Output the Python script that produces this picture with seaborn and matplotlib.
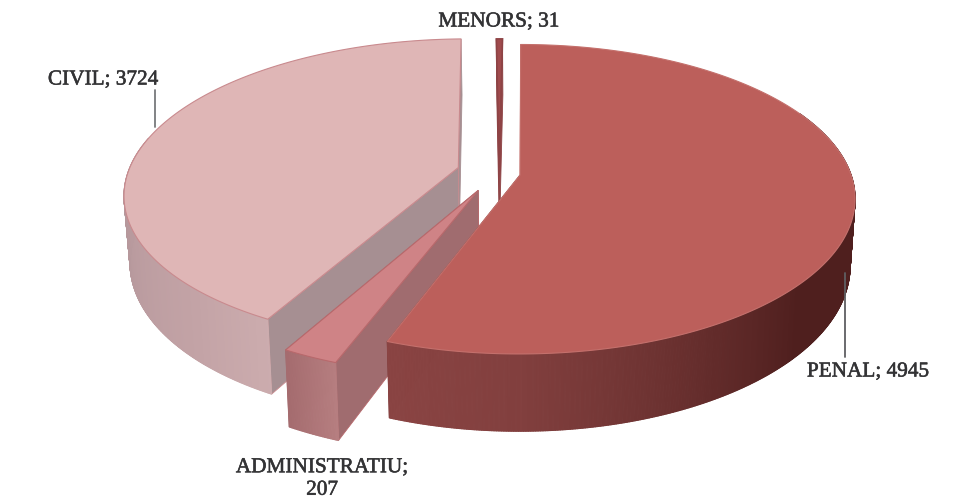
import numpy as np
import matplotlib.pyplot as plt
import matplotlib.patheffects as pe
from matplotlib.collections import PolyCollection
import seaborn as sns

# values, clockwise from 12 o'clock
categories = ['PENAL', 'ADMINISTRATIU', 'CIVIL', 'MENORS']
values = [4945, 207, 3724, 31]

top_colors = ['#BC5F5B', '#CF8386', '#DFB6B6', '#A04B4D']
edge_colors = ['#C4706C', '#B8696C', '#C98A8E', '#8E4345']
inner_colors = ['#6E3231', '#A06C6F', '#A68F92', '#8E4345']
side_ramps = [['#8A4443', '#6E3332', '#4F1F1E', '#4F1F1E'],
              ['#A56C6F', '#B67E80'],
              ['#B6989C', '#C3A3A6', '#D6B6B7'],
              ['#8E4345', '#8E4345']]
edge_widths = [0.8, 0.8, 0.8, 1.2]

# exploded apex of each slice on the ground plane
offset_u = [-0.015, -0.139, -0.203, -0.079]
offset_v = [0.02, 0.12, -0.03, -0.03]
draw_order = [2, 3, 1, 0]

cx, cy = 525, 172
scale_x, scale_y = 330, 150
persp = 0.156
depth = 65
taper = 0.015


def project(u, v, z=0.0):
    s = 1 / (1 - persp * v)
    return np.column_stack([cx + scale_x * u * s * (1 - taper * z),
                            cy + scale_y * v * s + depth * z * s])


def ground(i, theta):
    return offset_u[i] + np.sin(theta), offset_v[i] - np.cos(theta)


sns.set_theme(style='white')
plt.rcParams['font.family'] = ['Liberation Serif', 'DejaVu Serif']

fig, ax = plt.subplots(figsize=(9.8, 5.03), dpi=100)
ax.set_position([0, 0, 1, 1])
ax.set_xlim(0, 980)
ax.set_ylim(503, 0)
ax.axis('off')

angles = np.radians(np.concatenate([[0], np.cumsum(values)]) / np.sum(values) * 360)

for z, i in enumerate(draw_order, start=1):
    start, end = angles[i], angles[i + 1]
    n = max(int(np.degrees(end - start) * 4), 2)
    theta = np.linspace(start, end, n + 1)
    u, v = ground(i, theta)
    rim_top = project(u, v)
    rim_low = project(u, v, 1)
    apex_top = project(offset_u[i], offset_v[i])
    apex_low = project(offset_u[i], offset_v[i], 1)

    # radial faces
    ax.fill(*np.vstack([apex_top, rim_top[-1:], rim_low[-1:], apex_low]).T,
            color=inner_colors[i], lw=0.6, zorder=z)
    ax.fill(*np.vstack([apex_top, rim_top[:1], rim_low[:1], apex_low]).T,
            facecolor=inner_colors[i], edgecolor=edge_colors[i], lw=0.6, zorder=z)

    # outer wall, shaded along its screen position
    polys = [np.vstack([rim_top[k:k + 2], rim_low[k:k + 2][::-1]]) for k in range(n)]
    front = [k for k in range(n) if np.cos(theta[k]) < 0.2 or np.sin(theta[k]) > 0.9]
    ramp = sns.blend_palette(side_ramps[i], n_colors=n)
    rank = np.argsort(np.argsort(rim_top[:-1, 0]))
    colors = [ramp[r] for r in rank]
    ax.add_collection(PolyCollection([polys[k] for k in front],
                                     facecolors=[colors[k] for k in front],
                                     edgecolors=[colors[k] for k in front],
                                     linewidths=0.8, zorder=z))

    # top face
    ax.fill(*np.vstack([apex_top, rim_top]).T, facecolor=top_colors[i],
            edgecolor=edge_colors[i], lw=edge_widths[i], zorder=z)

# leader lines
ax.plot([155, 155], [90, 127], color='#77797c', lw=1.3, zorder=10)
ax.plot([845, 845], [273, 357], color='#5f5f62', lw=1.3, zorder=10)

label_style = dict(fontsize=15.3, color='#333335', ha='center', va='center', zorder=11,
                   path_effects=[pe.withStroke(linewidth=0.4, foreground='#333335')])
ax.text(499, 22, f'{categories[3]}; {values[3]}', **label_style)
ax.text(103, 80, f'{categories[2]}; {values[2]}', **label_style)
ax.text(868, 372, f'{categories[0]}; {values[0]}', **label_style)
ax.text(322, 479, f'{categories[1]};\n{values[1]}', linespacing=1.25, **label_style)

fig.savefig('out.png', dpi=100)
